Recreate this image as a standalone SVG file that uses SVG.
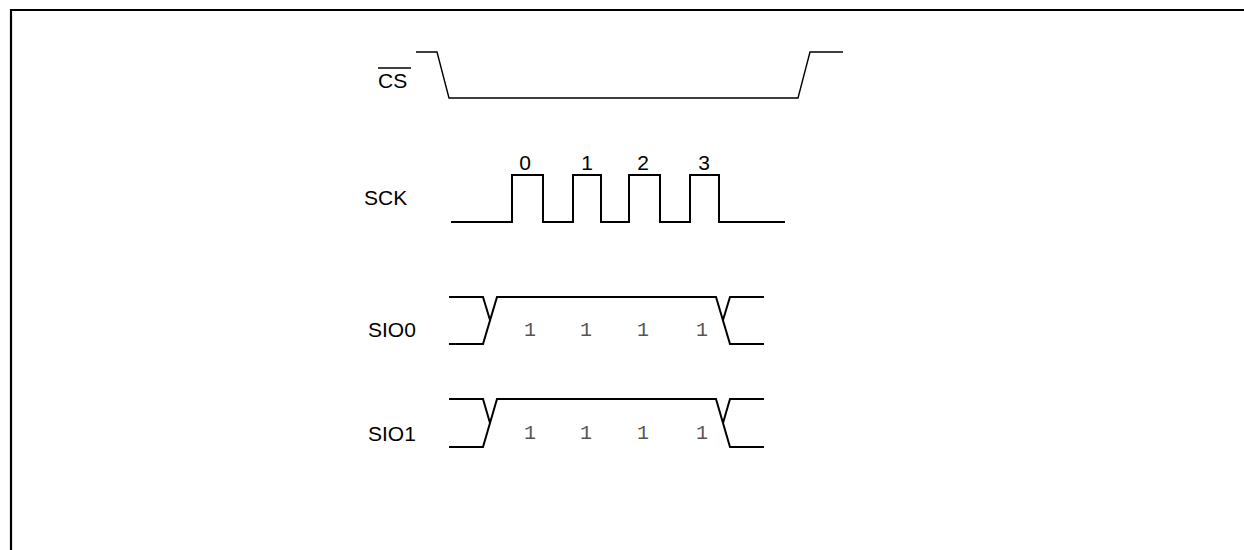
<svg xmlns="http://www.w3.org/2000/svg" width="1244" height="550" viewBox="0 0 1244 550">
<style>
.lbl{font-family:"Liberation Sans",Arial,sans-serif;font-size:21px;fill:#000}
.bit{font-family:"Liberation Mono","Courier New",monospace;font-size:20px;fill:#555;text-anchor:middle}
.sig{fill:none;stroke:#000;stroke-width:2;stroke-linejoin:miter}
.thin{fill:none;stroke:#000;stroke-width:1.4}
</style>
<rect width="1244" height="550" fill="#fff"/>
<path d="M11 552 V10 H1246" fill="none" stroke="#000" stroke-width="2.2"/>
<g id="cs">
<text class="lbl" x="378" y="88">CS</text>
<line x1="378" y1="68" x2="411" y2="68" stroke="#000" stroke-width="1.6"/>
<path class="thin" d="M416 52 H437 L449 98 H798 L810 52 H843"/>
</g>
<g id="sck">
<text class="lbl" x="364" y="205">SCK</text>
<path class="sig" d="M451 222 H512 V175 H543 V222 H573 V175 H601 V222 H629 V175 H660 V222 H690 V175 H719 V222 H785"/>
<text class="lbl" x="525" y="170" text-anchor="middle">0</text>
<text class="lbl" x="587" y="170" text-anchor="middle">1</text>
<text class="lbl" x="643" y="170" text-anchor="middle">2</text>
<text class="lbl" x="704" y="170" text-anchor="middle">3</text>
</g>
<g id="sio0">
<text class="lbl" x="368" y="337">SIO0</text>
<path class="sig" d="M449 297 H483 L490 320 M449 344 H483 L497 297 H716 L730 344 H764 M723 320 L730 297 H764"/>
<text class="bit" x="530" y="336">1</text>
<text class="bit" x="586" y="336">1</text>
<text class="bit" x="643" y="336">1</text>
<text class="bit" x="702" y="336">1</text>
</g>
<g id="sio1">
<text class="lbl" x="368" y="441">SIO1</text>
<path class="sig" d="M449 399 H483 L490 423 M449 447 H483 L497 399 H716 L730 447 H764 M723 423 L730 399 H764"/>
<text class="bit" x="530" y="439">1</text>
<text class="bit" x="586" y="439">1</text>
<text class="bit" x="643" y="439">1</text>
<text class="bit" x="702" y="439">1</text>
</g>
</svg>
